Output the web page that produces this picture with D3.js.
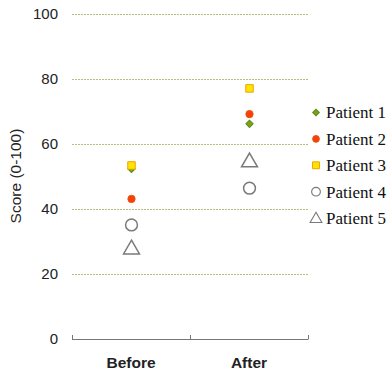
<!DOCTYPE html>
<html><head><meta charset="utf-8">
<script src="https://cdn.jsdelivr.net/npm/d3@7"></script>
<style>body{margin:0;background:#fff}svg{display:block}</style>
</head><body>
<svg id="c" width="388" height="373"></svg>
<script>
const categories = ["Before", "After"];
const patients = ["Patient 1", "Patient 2", "Patient 3", "Patient 4", "Patient 5"];
const before = [52.3, 43.1, 53.4, 35.1, 28.2];
const after = [66.2, 69.2, 77.1, 46.4, 55];
const yTicks = [0, 20, 40, 60, 80, 100];

const styles = [
  {shape: d3.symbolSquare, rot: 45, size: 26, fill: "#7aa31a", stroke: "#5f8a10"},
  {shape: d3.symbolCircle, rot: 0, size: 42, fill: "#ff3b10", stroke: "#e05a00"},
  {shape: d3.symbolSquare, rot: 0, size: 56, fill: "#ffe600", stroke: "#f2a000"},
  {shape: d3.symbolCircle, rot: 0, size: 110, fill: "none", stroke: "#7a7a7a"},
  {shape: d3.symbolTriangle, rot: 0, size: 110, fill: "none", stroke: "#7a7a7a"}
];

const svg = d3.select("#c");
const x = d3.scaleBand().domain(categories).range([72, 308]);
const y = d3.scaleLinear().domain([0, 100]).range([339, 14]);

// gridlines
svg.append("g").selectAll("line").data(yTicks.filter(t => t > 0)).join("line")
  .attr("x1", 72).attr("x2", 308)
  .attr("y1", d => y(d) + 0.5).attr("y2", d => y(d) + 0.5)
  .attr("stroke", "#b9bd85").attr("stroke-width", 1).attr("stroke-dasharray", "2,1");

// y tick labels
svg.append("g").selectAll("text").data(yTicks).join("text")
  .attr("x", 58).attr("y", d => y(d)).attr("dy", "0.36em")
  .attr("text-anchor", "end")
  .style("font-family", "'Liberation Sans', Arial, sans-serif").attr("font-size", 15)
  .attr("fill", "#222").text(d => d);

// x axis line
const ax = svg.append("g");
ax.append("line").attr("x1", 72).attr("x2", 308).attr("y1", 339.5).attr("y2", 339.5)
  .attr("stroke", "#777").attr("stroke-width", 1);
const tickXs = [x.range()[0], x(categories[1]), x.range()[1]];
ax.selectAll("line.t").data(tickXs).join("line").attr("class", "t")
  .attr("x1", d => d + 0.5).attr("x2", d => d + 0.5).attr("y1", 335).attr("y2", 339.5)
  .attr("stroke", "#777");

svg.append("g").selectAll("text").data(categories).join("text")
  .attr("x", d => x(d) + x.bandwidth() / 2).attr("y", 368)
  .attr("text-anchor", "middle")
  .style("font-family", "'Liberation Sans', Arial, sans-serif").attr("font-size", 15.5)
  .attr("font-weight", "bold").attr("fill", "#222").text(d => d);

// y title
svg.append("text").attr("transform", "translate(21,176) rotate(-90)")
  .attr("text-anchor", "middle")
  .style("font-family", "'Liberation Sans', Arial, sans-serif").attr("font-size", 15.5)
  .attr("fill", "#222").text("Score (0-100)");

// points
const pts = [];
patients.forEach((p, i) => {
  pts.push({cat: categories[0], v: before[i], i});
  pts.push({cat: categories[1], v: after[i], i});
});
const order = [4, 3, 0, 1, 2];
pts.sort((a, b) => order.indexOf(a.i) - order.indexOf(b.i));
svg.append("g").selectAll("path").data(pts).join("path")
  .attr("transform", d => `translate(${x(d.cat) + x.bandwidth() / 2 + 0.5},${y(d.v) + (d.i === 4 ? 2 : 0)}) rotate(${styles[d.i].rot})`)
  .attr("d", d => d3.symbol(styles[d.i].shape, styles[d.i].size)())
  .attr("fill", d => styles[d.i].fill).attr("stroke", d => styles[d.i].stroke)
  .attr("stroke-width", d => d.i >= 3 ? 1.5 : 1);

// legend
const lg = svg.append("g").selectAll("g").data(patients).join("g")
  .attr("transform", (d, i) => `translate(316,${112.5 + i * 26.4})`);
lg.append("path")
  .attr("d", (d, i) => d3.symbol(styles[i].shape, i >= 3 ? 60 : styles[i].size * 0.85)())
  .attr("transform", (d, i) => (i === 4 ? "translate(0,1) " : "") + `rotate(${styles[i].rot})`)
  .attr("fill", (d, i) => styles[i].fill).attr("stroke", (d, i) => styles[i].stroke)
  .attr("stroke-width", (d, i) => i >= 3 ? 1.1 : 1);
lg.append("text").attr("x", 10).attr("dy", "0.35em")
  .style("font-family", "'Liberation Serif', 'Times New Roman', serif")
  .style("font-size", "17px")
  .attr("fill", "#111").text(d => d);
</script>
</body></html>
